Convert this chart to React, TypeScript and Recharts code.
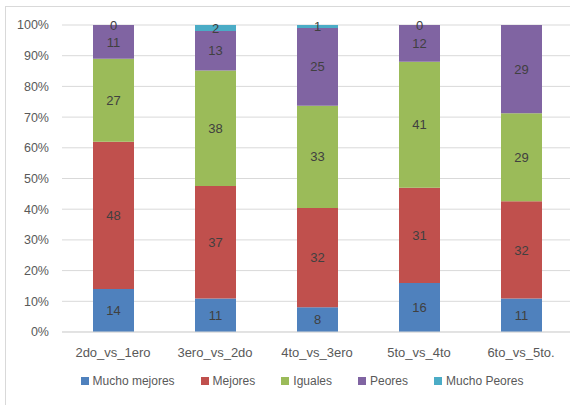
import { BarChart, Bar, XAxis, YAxis, CartesianGrid, Legend, LabelList } from 'recharts'

const categories = ['2do_vs_1ero', '3ero_vs_2do', '4to_vs_3ero', '5to_vs_4to', '6to_vs_5to.']
const muchoMejores = [14, 11, 8, 16, 11]
const mejores = [48, 37, 32, 31, 32]
const iguales = [27, 38, 33, 41, 29]
const peores = [11, 13, 25, 12, 29]
const muchoPeores: (number | null)[] = [0, 2, 1, 0, null]

const yTicks = [0, 0.1, 0.2, 0.3, 0.4, 0.5, 0.6, 0.7, 0.8, 0.9, 1]

const series = [
  { key: 'muchoMejores', name: 'Mucho mejores', color: '#4F81BD', values: muchoMejores },
  { key: 'mejores', name: 'Mejores', color: '#C0504D', values: mejores },
  { key: 'iguales', name: 'Iguales', color: '#9BBB59', values: iguales },
  { key: 'peores', name: 'Peores', color: '#8064A2', values: peores },
  { key: 'muchoPeores', name: 'Mucho Peores', color: '#4BACC6', values: muchoPeores },
]

const data = categories.map((c, i) => {
  const row: Record<string, string | number | null> = { name: c }
  series.forEach((s) => {
    row[s.key] = s.values[i]
  })
  return row
})

const FONT = '"Liberation Sans", Arial, sans-serif'

function LegendContent() {
  return (
    <div style={{ display: 'flex', justifyContent: 'center', gap: 26, fontFamily: FONT, fontSize: 12, color: '#595959' }}>
      {series.map((s) => (
        <div key={s.key} style={{ display: 'flex', alignItems: 'center' }}>
          <span style={{ display: 'inline-block', width: 8, height: 8, background: s.color, marginRight: 4 }} />
          <span>{s.name}</span>
        </div>
      ))}
    </div>
  )
}

export default function App() {
  return (
    <div style={{ position: 'absolute', left: 0, top: 0, width: 570, height: 405, overflow: 'hidden', background: '#fff' }}>
      <div
        style={{
          position: 'absolute',
          left: 5,
          top: 6,
          width: 600,
          height: 420,
          border: '1px solid #d9d9d9',
        }}
      />
      <div style={{ position: 'absolute', left: 0, top: 0 }}>
        <BarChart
          width={580}
          height={405}
          data={data}
          stackOffset="expand"
          margin={{ top: 25, right: 8, left: 0, bottom: 43 }}
          barSize={41}
        >
          <CartesianGrid vertical={false} stroke="#d9d9d9" />
          <XAxis
            dataKey="name"
            axisLine={{ stroke: '#d9d9d9' }}
            tickLine={false}
            tickSize={0}
            tickMargin={16}
            tick={{ fill: '#595959', fontSize: 13, fontFamily: FONT }}
          />
          <YAxis
            width={62}
            ticks={yTicks}
            domain={[0, 1]}
            tickFormatter={(v: number) => `${Math.round(v * 100)}%`}
            axisLine={false}
            tickLine={false}
            tickSize={0}
            tickMargin={13}
            tick={{ fill: '#595959', fontSize: 12.5, fontFamily: FONT }}
          />
          <Legend
            verticalAlign="middle"
            content={<LegendContent />}
            wrapperStyle={{ top: 374, left: 0, width: 604 }}
          />
          {series.map((s) => (
            <Bar
              key={s.key}
              dataKey={s.key}
              name={s.name}
              stackId="a"
              fill={s.color}
              minPointSize={s.key === 'muchoPeores' ? 0.1 : 0}
              isAnimationActive={false}
            >
              <LabelList dataKey={s.key} position="center" fill="#404040" fontSize={13} fontFamily={FONT} />
            </Bar>
          ))}
        </BarChart>
      </div>
    </div>
  )
}
